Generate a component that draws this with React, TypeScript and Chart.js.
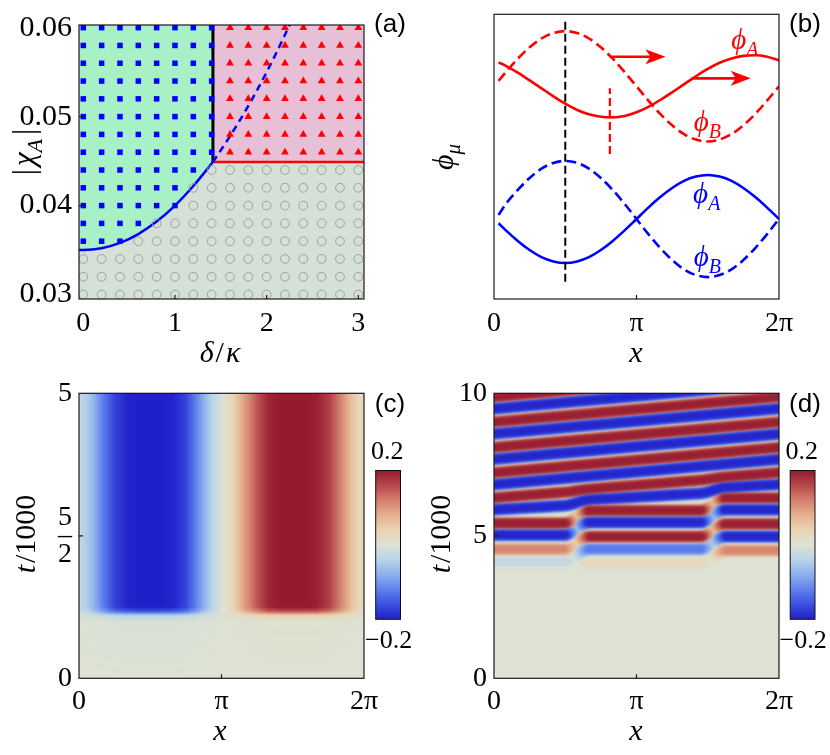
import React, { useEffect, useRef } from 'react';
import { Chart, registerables } from 'chart.js';
Chart.register(...registerables);

const SERIF = '"Liberation Serif"';
const SANS = '"Liberation Sans"';
Chart.defaults.font.family = SERIF;
const PI = Math.PI;
const PHI = '\u03D5';

// ================= (a) phase diagram =================
const deltaGrid = [0, 0.2, 0.4, 0.6, 0.8, 1.0, 1.2, 1.4, 1.6, 1.8, 2.0, 2.2, 2.4, 2.6, 2.8, 3.0];
const chiGrid = [0.030, 0.032, 0.034, 0.036, 0.038, 0.040, 0.042, 0.044, 0.046, 0.048, 0.050, 0.052, 0.054, 0.056, 0.058, 0.060];
const squaresPerRow = [0, 0, 0, 3, 4, 6, 6, 7, 8, 8, 8, 8, 8, 8, 8, 8];
const trianglesPerRow = [0, 0, 0, 0, 0, 0, 0, 0, 8, 8, 8, 8, 8, 8, 8, 8];
const boundaryDelta = [-0.1, 0, 0.2, 0.4, 0.6, 0.8, 1.0, 1.2, 1.414];
const boundaryChi = [0.035, 0.035, 0.0352, 0.0358, 0.0368, 0.0382, 0.0400, 0.0422, 0.0449];
const dashedDelta = [1.414, 1.6, 1.8, 2.0, 2.2, 2.4];
const dashedChi = [0.0449, 0.0478, 0.0512, 0.0550, 0.0592, 0.0638];
const redLineDelta = [1.414, 3.2];
const redLineChi = [0.0449, 0.0449];
const blackLineDelta = [1.414, 1.414];
const blackLineChi = [0.0449, 0.0606];
const aXTicks = [0, 1, 2, 3];
const aYTicks = [0.03, 0.04, 0.05, 0.06];

// ================= (b) profiles =================
const xB = [0.1, 0.262, 0.524, 0.785, 1.047, 1.309, 1.571, 1.833, 2.094, 2.356, 2.618, 2.880, 3.142, 3.403, 3.665, 3.927, 4.189, 4.451, 4.712, 4.974, 5.236, 5.498, 5.760, 6.021, 6.283];
const redPhiA = [8.31, 8.19, 7.95, 7.68, 7.40, 7.12, 6.86, 6.64, 6.49, 6.40, 6.38, 6.43, 6.56, 6.75, 6.99, 7.26, 7.54, 7.82, 8.08, 8.30, 8.45, 8.54, 8.56, 8.51, 8.38];
const redPhiB = [7.66, 7.97, 8.44, 8.84, 9.15, 9.34, 9.41, 9.34, 9.15, 8.84, 8.44, 7.97, 7.47, 6.97, 6.50, 6.10, 5.79, 5.60, 5.53, 5.60, 5.79, 6.10, 6.50, 6.97, 7.47];
const bluePhiA = [2.66, 2.41, 2.04, 1.72, 1.47, 1.32, 1.265, 1.32, 1.47, 1.72, 2.04, 2.41, 2.81, 3.21, 3.58, 3.90, 4.15, 4.30, 4.355, 4.30, 4.15, 3.90, 3.58, 3.21, 2.81];
const bluePhiB = [2.95, 3.34, 3.83, 4.25, 4.58, 4.78, 4.85, 4.78, 4.58, 4.25, 3.83, 3.34, 2.81, 2.28, 1.79, 1.37, 1.04, 0.84, 0.77, 0.84, 1.04, 1.37, 1.79, 2.28, 2.81];
const blackMarkX = [1.571, 1.571];
const blackMarkY = [0.61, 9.74];
const redMarkX = [2.554, 2.554];
const redMarkY = [5.09, 7.40];
const arrowX0 = [2.554, 4.35];
const arrowX1 = [3.78, 5.66];
const arrowY = [8.51, 7.75];

// ================= (c) heat map =================
const xC = [0, 0.262, 0.524, 0.785, 1.047, 1.309, 1.571, 1.833, 2.094, 2.356, 2.618, 2.880, 3.142, 3.403, 3.665, 3.927, 4.189, 4.451, 4.712, 4.974, 5.236, 5.498, 5.760, 6.021, 6.283];
const profileC = [-0.03, -0.06, -0.12, -0.17, -0.195, -0.2, -0.2, -0.2, -0.195, -0.17, -0.11, -0.05, -0.005, 0.04, 0.10, 0.15, 0.19, 0.2, 0.2, 0.2, 0.195, 0.17, 0.12, 0.06, 0.02];
const tC = [0, 1.0, 1.1, 1.17, 1.25, 5];
const rowScaleC = [0, 0.03, 0.2, 0.75, 1, 1];

// ================= (d) stripes =================
const dPeriod = 0.886;
const dStripeT0 = [3.60, 4.09, 4.53, 5.03, 5.44, 5.92, 6.33, 6.80, 7.21, 7.69, 8.10, 8.58, 8.99, 9.46, 9.87, 10.35];
const dAmpLeft = [0, -0.035, 0.12, -0.2, 0.2, -0.2, 0.2, -0.2, 0.2, -0.2, 0.2, -0.2, 0.2, -0.2, 0.2, -0.2];
const dAmpMid = [0.035, -0.14, 0.2, -0.2, 0.2, -0.2, 0.2, -0.2, 0.2, -0.2, 0.2, -0.2, 0.2, -0.2, 0.2, -0.2];
const dAmpRight = [0.12, -0.2, 0.2, -0.2, 0.2, -0.2, 0.2, -0.2, 0.2, -0.2, 0.2, -0.2, 0.2, -0.2, 0.2, -0.2];
const dStepWeight = [1, 1, 1, 1, 1, 0.35, 0.1, 0, 0, 0, 0, 0, 0, 0, 0, 0];
const dStepX = [1.55, 2.1, 4.55, 5.1];

// ================= colours =================
const CMAP = [
  [-0.2, 32, 32, 200],
  [-0.16, 60, 80, 222],
  [-0.12, 95, 128, 236],
  [-0.08, 140, 175, 238],
  [-0.04, 185, 212, 232],
  [0, 221, 226, 211],
  [0.04, 233, 212, 180],
  [0.08, 228, 176, 142],
  [0.12, 212, 128, 108],
  [0.16, 182, 72, 76],
  [0.2, 148, 26, 46],
];
function cmap(v: number): number[] {
  if (v <= CMAP[0][0]) return CMAP[0].slice(1);
  for (let i = 1; i < CMAP.length; i++) {
    if (v <= CMAP[i][0]) {
      const a = CMAP[i - 1], b = CMAP[i];
      const f = (v - a[0]) / (b[0] - a[0]);
      return [a[1] + f * (b[1] - a[1]), a[2] + f * (b[2] - a[2]), a[3] + f * (b[3] - a[3])];
    }
  }
  return CMAP[CMAP.length - 1].slice(1);
}
const rgb = (c: number[]) => `rgb(${Math.round(c[0])},${Math.round(c[1])},${Math.round(c[2])})`;

function interp1(xs: number[], ys: number[], x: number) {
  if (x <= xs[0]) return ys[0];
  for (let i = 1; i < xs.length; i++) {
    if (x <= xs[i]) {
      const f = (x - xs[i - 1]) / (xs[i] - xs[i - 1]);
      return ys[i - 1] + f * (ys[i] - ys[i - 1]);
    }
  }
  return ys[ys.length - 1];
}
const zip = (xs: number[], ys: number[]) => xs.map((x, k) => ({ x, y: ys[k] }));

// ================= helpers =================
type Seg = { s: string; i?: boolean; sub?: boolean; dx?: number };
function rich(ctx: CanvasRenderingContext2D, segs: Seg[], cx: number, cy: number, size: number, color: string, rot = false) {
  ctx.save();
  ctx.translate(cx, cy);
  if (rot) ctx.rotate(-PI / 2);
  ctx.fillStyle = color;
  ctx.textBaseline = 'alphabetic';
  ctx.textAlign = 'left';
  const font = (g: Seg) => `${g.i ? 'italic ' : ''}${g.sub ? Math.round(size * 0.7) : size}px ${SERIF}`;
  let total = 0;
  segs.forEach((g) => { ctx.font = font(g); total += ctx.measureText(g.s).width + (g.dx || 0); });
  let x = -total / 2;
  const base = size * 0.33;
  segs.forEach((g) => {
    ctx.font = font(g);
    x += g.dx || 0;
    ctx.fillText(g.s, x, g.sub ? base + size * 0.24 : base);
    x += ctx.measureText(g.s).width;
  });
  ctx.restore();
}

const Y_AXIS_W = 70;
const X_AXIS_H = 50;
function layoutPad(l: number, t: number, r: number, b: number) {
  return { left: l - Y_AXIS_W, top: t, right: 830 - r, bottom: 755 - b - X_AXIS_H };
}
function axis(min: number, max: number, ticks: number[], cb: (v: number) => any, isX: boolean, pad: number, show = true, lineHeight = 1.2, size = 28) {
  return {
    type: 'linear',
    min, max,
    grid: { display: false, drawTicks: false },
    border: { display: false },
    afterBuildTicks: (s: any) => { s.ticks = ticks.map((v) => ({ value: v })); },
    afterFit: (s: any) => { if (isX) s.height = X_AXIS_H; else s.width = Y_AXIS_W; },
    ticks: {
      display: show,
      autoSkip: false,
      maxRotation: 0,
      padding: pad,
      color: '#000',
      font: { family: SERIF, size, lineHeight },
      callback: (v: number) => cb(v),
    },
  };
}
const piLabel = (v: number) => (Math.abs(v) < 1e-6 ? '0' : Math.abs(v - PI) < 1e-6 ? 'π' : '2π');

function framePlugin(xMarks: number[], yMarks: number[]) {
  return {
    id: 'frame',
    afterDatasetsDraw(chart: any) {
      const { ctx, chartArea: ca, scales } = chart;
      ctx.save();
      ctx.strokeStyle = '#1a1a1a';
      ctx.lineWidth = 1.2;
      ctx.strokeRect(ca.left, ca.top, ca.right - ca.left, ca.bottom - ca.top);
      ctx.beginPath();
      xMarks.forEach((v) => { const p = scales.x.getPixelForValue(v); ctx.moveTo(p, ca.bottom); ctx.lineTo(p, ca.bottom - 4); });
      yMarks.forEach((v) => { const p = scales.y.getPixelForValue(v); ctx.moveTo(ca.left, p); ctx.lineTo(ca.left + 4, p); });
      ctx.stroke();
      ctx.restore();
    },
  };
}
function bgPlugin(color: string) {
  return {
    id: 'bg',
    beforeDatasetsDraw(chart: any) {
      const { ctx, chartArea: ca } = chart;
      ctx.save();
      ctx.fillStyle = color;
      ctx.fillRect(ca.left, ca.top, ca.right - ca.left, ca.bottom - ca.top);
      ctx.restore();
    },
  };
}
function textPlugin(draw: (ctx: CanvasRenderingContext2D, chart: any) => void) {
  return { id: 'txt', afterDraw(chart: any) { draw(chart.ctx, chart); } };
}
function colorbarPlugin(left: number) {
  return {
    id: 'cbar',
    afterDraw(chart: any) {
      const ctx = chart.ctx as CanvasRenderingContext2D;
      const top = 470.5, bottom = 619.3, w = 24.8;
      const g = ctx.createLinearGradient(0, top, 0, bottom);
      CMAP.forEach((s) => g.addColorStop((0.2 - s[0]) / 0.4, rgb(s.slice(1))));
      ctx.save();
      ctx.fillStyle = g;
      ctx.fillRect(left, top, w, bottom - top);
      ctx.strokeStyle = '#111';
      ctx.lineWidth = 1;
      ctx.strokeRect(left, top, w, bottom - top);
      ctx.fillStyle = '#000';
      ctx.font = `26px ${SERIF}`;
      ctx.textAlign = 'center';
      ctx.textBaseline = 'middle';
      ctx.fillText('0.2', left + 11.5, 452);
      ctx.fillText('\u22120.2', left + 13, 641);
      ctx.restore();
    },
  };
}
const panelLabel = (ctx: CanvasRenderingContext2D, s: string, x: number, y: number) => {
  ctx.save();
  ctx.font = `26px ${SANS}`;
  ctx.fillStyle = '#000';
  ctx.textAlign = 'center';
  ctx.textBaseline = 'middle';
  ctx.fillText(s, x, y);
  ctx.restore();
};
const baseOpts = (padding: any, scales: any) => ({
  responsive: false,
  animation: false,
  events: [],
  layout: { padding },
  plugins: { legend: { display: false }, tooltip: { enabled: false } },
  scales,
});

// ================= configs =================
function configA(): any {
  const squares: any[] = [], tris: any[] = [], circs: any[] = [];
  chiGrid.forEach((chi, i) => deltaGrid.forEach((d, j) => {
    const p = { x: d, y: chi };
    if (j < squaresPerRow[i]) squares.push(p);
    else if (j >= deltaGrid.length - trianglesPerRow[i]) tris.push(p);
    else circs.push(p);
  }));
  return {
    type: 'scatter',
    data: {
      datasets: [
        { data: squares, pointStyle: 'rect', pointRadius: 3.9, backgroundColor: '#0000ff', pointBackgroundColor: '#0000ff', pointBorderWidth: 0, order: 1 },
        { data: tris, pointStyle: 'triangle', pointRadius: 4.5, backgroundColor: '#ff0000', pointBackgroundColor: '#ff0000', pointBorderWidth: 0, order: 1 },
        { data: circs, pointStyle: 'circle', pointRadius: 4.4, backgroundColor: 'rgba(0,0,0,0)', pointBackgroundColor: 'rgba(0,0,0,0)', pointBorderColor: '#9a9a9a', borderColor: '#9a9a9a', pointBorderWidth: 0.9, order: 1 },
        { data: zip(boundaryDelta, boundaryChi), showLine: true, pointRadius: 0, borderColor: '#0000ff', borderWidth: 2.5, fill: 'end', backgroundColor: '#a8f1c6', cubicInterpolationMode: 'monotone', order: 10 },
        { data: zip(redLineDelta, redLineChi), showLine: true, pointRadius: 0, borderColor: '#ff0000', borderWidth: 2.5, fill: 'end', backgroundColor: '#e7bfd6', order: 10 },
        { data: zip(dashedDelta, dashedChi), showLine: true, pointRadius: 0, borderColor: '#0000ff', borderWidth: 2.5, borderDash: [7, 5], cubicInterpolationMode: 'monotone', order: 5 },
        { data: zip(blackLineDelta, blackLineChi), showLine: true, pointRadius: 0, borderColor: '#000', borderWidth: 3, order: 5 },
      ],
    },
    options: baseOpts(layoutPad(79, 14.3, 364, 299), {
      x: axis(-0.047, 3.062, aXTicks, (v) => String(v), true, 8.2),
      y: axis(0.0295, 0.0603, aYTicks, (v) => v.toFixed(2), false, 7, true, 1.2, 30),
    }),
    plugins: [
      bgPlugin('#d5e1d6'),
      framePlugin([1, 2, 3], [0.04, 0.05]),
      textPlugin((ctx) => {
        rich(ctx, [{ s: '|' }, { s: 'χ', i: true, dx: 3 }, { s: 'A', i: true, sub: true }, { s: '|', dx: 4 }], 24, 152, 31, '#000', true);
        rich(ctx, [{ s: 'δ', i: true }, { s: '/', dx: 2 }, { s: 'κ', i: true, dx: 2 }], 220, 352, 30, '#000');
        panelLabel(ctx, '(a)', 390, 25);
      }),
    ],
  };
}

function configB(): any {
  const line = (ys: number[], color: string, dash: number[] = []) => ({
    data: zip(xB, ys), showLine: true, pointRadius: 0, borderColor: color, borderWidth: 2.6, borderDash: dash, cubicInterpolationMode: 'monotone', order: 2,
  });
  return {
    type: 'scatter',
    data: {
      datasets: [
        line(redPhiA, '#ff0000'),
        line(redPhiB, '#ff0000', [10, 5]),
        line(bluePhiA, '#0000ff'),
        line(bluePhiB, '#0000ff', [10, 5]),
        { data: zip(blackMarkX, blackMarkY), showLine: true, pointRadius: 0, borderColor: '#000', borderWidth: 2, borderDash: [8, 4], order: 1 },
        { data: zip(redMarkX, redMarkY), showLine: true, pointRadius: 0, borderColor: '#ff0000', borderWidth: 2.2, borderDash: [8, 4], order: 1 },
      ],
    },
    options: baseOpts(layoutPad(494, 14.3, 779, 299), {
      x: axis(0, 2 * PI, [0, PI, 2 * PI], piLabel, true, 8.2),
      y: axis(0, 10, [], () => '', false, 7, false),
    }),
    plugins: [
      framePlugin([PI], []),
      {
        id: 'arrows',
        afterDatasetsDraw(chart: any) {
          const { ctx, scales } = chart;
          ctx.save();
          ctx.strokeStyle = '#ff0000';
          ctx.fillStyle = '#ff0000';
          ctx.lineWidth = 2.6;
          arrowX0.forEach((x0, k) => {
            const px0 = scales.x.getPixelForValue(x0);
            const px1 = scales.x.getPixelForValue(arrowX1[k]);
            const py = scales.y.getPixelForValue(arrowY[k]);
            ctx.beginPath();
            ctx.moveTo(px0, py);
            ctx.lineTo(px1 - 14, py);
            ctx.stroke();
            ctx.beginPath();
            ctx.moveTo(px1, py);
            ctx.lineTo(px1 - 20, py - 7.5);
            ctx.lineTo(px1 - 15, py);
            ctx.lineTo(px1 - 20, py + 7.5);
            ctx.closePath();
            ctx.fill();
          });
          ctx.restore();
        },
      },
      textPlugin((ctx, chart) => {
        const sx = chart.scales.x, sy = chart.scales.y;
        const lab = (sub: string, x: number, y: number, c: string) =>
          rich(ctx, [{ s: PHI, i: true }, { s: sub, i: true, sub: true }], sx.getPixelForValue(x), sy.getPixelForValue(y), 29, c);
        lab('A', 5.53, 9.10, '#ff0000');
        lab('B', 4.705, 6.22, '#ff0000');
        lab('A', 4.69, 3.72, '#0000ff');
        lab('B', 4.705, 1.48, '#0000ff');
        rich(ctx, [{ s: PHI, i: true }, { s: 'μ', i: true, sub: true }], 443, 157, 30, '#000', true);
        rich(ctx, [{ s: 'x', i: true }], 636, 352, 30, '#000');
        panelLabel(ctx, '(b)', 805, 25);
      }),
    ],
  };
}

function configC(): any {
  return {
    type: 'scatter',
    data: { datasets: [] },
    options: baseOpts(layoutPad(79, 393.3, 364, 678.3), {
      x: axis(0, 2 * PI, [0, PI, 2 * PI], piLabel, true, 6.6),
      y: axis(0, 5, [0, 2.5, 5], (v) => (v === 2.5 ? ['5', '–', '2'] : String(v)), false, 7, true, 0.66),
    }),
    plugins: [
      {
        id: 'heat',
        beforeDatasetsDraw(chart: any) {
          const { ctx, chartArea: ca, scales } = chart;
          const w = Math.round(ca.right - ca.left), h = Math.round(ca.bottom - ca.top);
          const off = document.createElement('canvas');
          off.width = w; off.height = h;
          const octx = off.getContext('2d') as CanvasRenderingContext2D;
          const img = octx.createImageData(w, h);
          for (let py = 0; py < h; py++) {
            const t = scales.y.getValueForPixel(ca.top + py + 0.5);
            const rs = interp1(tC, rowScaleC, t);
            for (let px = 0; px < w; px++) {
              const xv = scales.x.getValueForPixel(ca.left + px + 0.5);
              const c = cmap(interp1(xC, profileC, xv) * rs);
              const o = (py * w + px) * 4;
              img.data[o] = c[0]; img.data[o + 1] = c[1]; img.data[o + 2] = c[2]; img.data[o + 3] = 255;
            }
          }
          octx.putImageData(img, 0, 0);
          ctx.drawImage(off, ca.left, ca.top);
        },
      },
      framePlugin([PI], [2.5]),
      colorbarPlugin(375.7),
      textPlugin((ctx) => {
        rich(ctx, [{ s: 't', i: true }, { s: '/1000', dx: 2 }], 25, 534, 30, '#000', true);
        rich(ctx, [{ s: 'x', i: true }], 220, 730, 30, '#000');
        panelLabel(ctx, '(c)', 390, 405);
      }),
    ],
  };
}

// ---- stripe geometry helpers for (d) ----
const LEVELS = [0.02, 0.05, 0.08, 0.11, 0.14, 0.17, 0.19];
const SAT = 1.5;
const X0 = -0.35, X1 = 2 * PI + 0.35;
const smooth = (u: number) => (u <= 0 ? 0 : u >= 1 ? 1 : u * u * (3 - 2 * u));
function stripeOffset(x: number, w: number) {
  const stepped = (dPeriod / 2) * smooth((x - dStepX[0]) / (dStepX[1] - dStepX[0])) + (dPeriod / 2) * smooth((x - dStepX[2]) / (dStepX[3] - dStepX[2]));
  const linear = (dPeriod * x) / (2 * PI);
  return w * stepped + (1 - w) * linear;
}
function stripePath(t0: number, w: number, xa: number, xb: number) {
  const xs: number[] = [xa];
  const n = 80;
  for (let k = 1; k < n; k++) xs.push(xa + ((xb - xa) * k) / n);
  xs.push(xb);
  return xs.map((x) => ({ x, y: t0 + stripeOffset(x, w) }));
}
function bandSets(t0: number, w: number, xa: number, xb: number, amp: number, taperL: number, taperR: number): any[] {
  const A = Math.abs(amp), sgn = Math.sign(amp);
  const out: any[] = [];
  if (A === 0) return out;
  LEVELS.forEach((lv, k) => {
    if (lv >= A) return;
    const next = k + 1 < LEVELS.length ? Math.min(LEVELS[k + 1], A) : A;
    const colV = sgn * (lv + next) / 2;
    const sl = (taperL * lv) / A, sr = (taperR * lv) / A;
    out.push({
      data: stripePath(t0, w, xa + sl, xb - sr),
      showLine: true,
      pointRadius: 0,
      borderColor: rgb(cmap(colV)),
      borderCapStyle: 'round',
      borderJoinStyle: 'round',
      borderWidth: (c: any) => {
        const y = c.chart.scales.y;
        if (!y) return 1;
        const ppt = Math.abs(y.getPixelForValue(1) - y.getPixelForValue(0));
        return ((dPeriod * ppt) / PI) * Math.acos(Math.min(1, lv / (A * SAT)));
      },
      order: 100 - k,
    });
  });
  return out;
}

function configD(): any {
  const sets: any[] = [];
  const cut1 = (dStepX[0] + dStepX[1]) / 2, cut2 = (dStepX[2] + dStepX[3]) / 2;
  dStripeT0.forEach((t0, i) => {
    const aL = dAmpLeft[i], aM = dAmpMid[i], aR = dAmpRight[i], w = dStepWeight[i];
    if (w < 0.99) {
      sets.push(...bandSets(t0, w, X0, X1, aM, 0, 0));
    } else {
      const tp = (a: number, b: number) => (a === b ? 0.28 : 0.32);
      sets.push(...bandSets(t0, w, X0, cut1, aL, 0, tp(aL, aM)));
      sets.push(...bandSets(t0, w, cut1, cut2, aM, tp(aL, aM), tp(aM, aR)));
      sets.push(...bandSets(t0, w, cut2, X1, aR, tp(aM, aR), 0));
    }
  });
  return {
    type: 'scatter',
    data: { datasets: sets },
    options: baseOpts(layoutPad(494, 393.3, 779, 678.3), {
      x: axis(0, 2 * PI, [0, PI, 2 * PI], piLabel, true, 6.6),
      y: axis(0, 10, [0, 5, 10], (v) => String(v), false, 7),
    }),
    plugins: [
      bgPlugin(rgb(cmap(0))),
      {
        id: 'blur',
        beforeDatasetsDraw(chart: any) { chart.ctx.save(); chart.ctx.filter = 'blur(1.6px)'; },
        afterDatasetsDraw(chart: any) { chart.ctx.restore(); },
      },
      framePlugin([PI], [5]),
      colorbarPlugin(790.2),
      textPlugin((ctx) => {
        rich(ctx, [{ s: 't', i: true }, { s: '/1000', dx: 2 }], 440, 534, 30, '#000', true);
        rich(ctx, [{ s: 'x', i: true }], 636, 730, 30, '#000');
        panelLabel(ctx, '(d)', 805, 405);
      }),
    ],
  };
}

export default function App() {
  const refs = [useRef<HTMLCanvasElement>(null), useRef<HTMLCanvasElement>(null), useRef<HTMLCanvasElement>(null), useRef<HTMLCanvasElement>(null)];
  useEffect(() => {
    const makers = [configA, configB, configC, configD];
    const charts = refs.map((r, i) => new Chart(r.current as HTMLCanvasElement, makers[i]()));
    return () => { charts.forEach((c) => c.destroy()); };
  }, []);
  return (
    <div style={{ position: 'absolute', left: 0, top: 0, width: 830, height: 755, background: '#fff', overflow: 'hidden' }}>
      {refs.map((r, i) => (
        <canvas key={i} ref={r} width={830} height={755} style={{ position: 'absolute', left: 0, top: 0, width: 830, height: 755 }} />
      ))}
    </div>
  );
}
